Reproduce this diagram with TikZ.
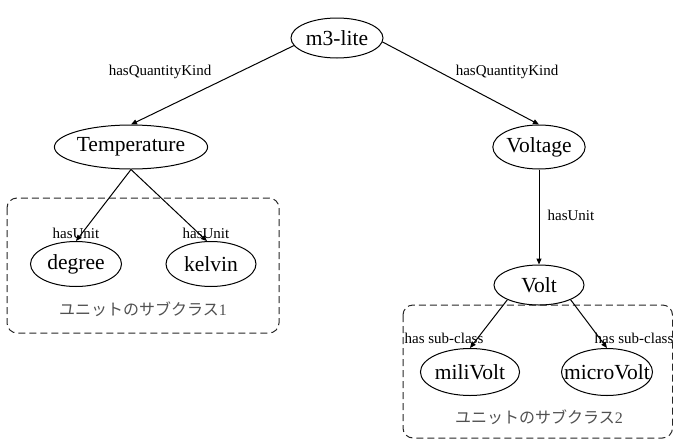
\documentclass[tikz,border=0pt]{standalone}
\usepackage{fontspec}
\setmainfont{Liberation Serif}
\newfontfamily\jpfont{Noto Sans CJK JP}
\usepackage{xcolor}
\usepackage{tikz}
\usetikzlibrary{shapes.geometric}
\usetikzlibrary{arrows.meta}
\definecolor{groupgray}{RGB}{80, 80, 80}

\begin{document}
\begin{tikzpicture}[x=1pt, y=-1pt, line width=1pt,
        concept/.style = {draw=black, ellipse, inner sep=0pt, font=\fontsize{21.5}{23}\selectfont},
        rel/.style = {font=\fontsize{15}{17}\selectfont, inner sep=0pt},
        group/.style = {draw=black!85, dash pattern=on 7pt off 4pt, rounded corners=10pt},
        grouplabel/.style = {text=groupgray, inner sep=0pt, font=\fontsize{16}{18}\selectfont},
        link/.style = {-{Triangle[length=6pt, width=5pt]}, black}]
        \useasboundingbox (0,0) rectangle (673,440);
        \draw[group] (7,198) rectangle (279,333);
        \draw[group] (403,305) rectangle (672.5,438);
        \node[concept, minimum width=92pt, minimum height=40pt] (m3) at (337, 38) {m3-lite};
        \node[concept, minimum width=128pt, minimum height=44pt] (temp) at (131, 147) {Temperature};
        \node[concept, minimum width=90pt, minimum height=44pt] (voltage) at (539, 147) {Voltage};
        \node[concept, minimum width=91pt, minimum height=45pt] (degree) at (76, 264) {degree};
        \node[concept, minimum width=90pt, minimum height=45pt] (kelvin) at (211, 264) {kelvin};
        \node[concept, minimum width=90pt, minimum height=40pt] (volt) at (539, 285) {Volt};
        \node[concept, minimum width=91pt, minimum height=47pt] (milivolt) at (470, 372) {miliVolt};
        \node[concept, inner xsep=-20pt, minimum width=91pt, minimum height=47pt] (microvolt) at (607, 372) {microVolt};
        \draw[link] (m3.190) -- (temp.north);
        \draw[link] (m3.-5) -- (voltage.north);
        \draw[link] (temp.south) -- (degree.north);
        \draw[link] (temp.south) -- (kelvin.100);
        \draw[link] (voltage.south) -- (volt.north);
        \draw[link] (volt.205) -- (milivolt.north);
        \draw[link] (volt.-25) -- (microvolt.north);
        \node[rel] (relTempKind) at (160, 72) {hasQuantityKind};
        \node[rel] (relVoltKind) at (507, 72) {hasQuantityKind};
        \node[rel] (relDegree) at (76, 233) {hasUnit};
        \node[rel] (relKelvin) at (206, 233) {hasUnit};
        \node[rel] (relVolt) at (571, 215) {hasUnit};
        \node[rel] (relMili) at (444, 338) {has sub-class};
        \node[rel] (relMicro) at (634, 338) {has sub-class};
        \node[grouplabel] (groupA) at (143, 309) {\jpfont ユニットのサブクラス\rmfamily 1};
        \node[grouplabel] (groupB) at (539, 417) {\jpfont ユニットのサブクラス\rmfamily 2};
    \end{tikzpicture}
\end{document}
